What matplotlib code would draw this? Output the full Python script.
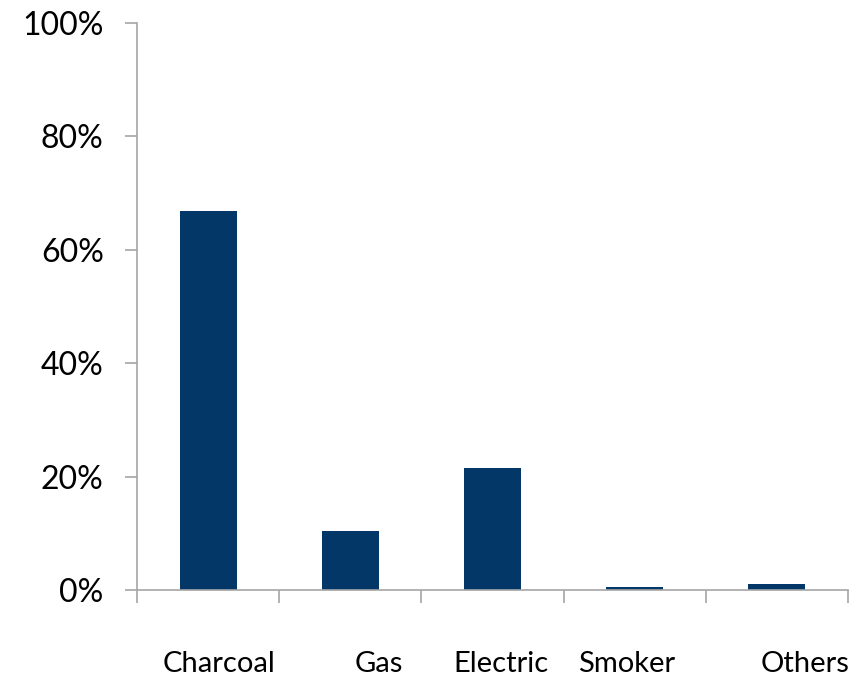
import numpy as np
import matplotlib.pyplot as plt
from matplotlib.ticker import PercentFormatter

categories = ['Charcoal', 'Gas', 'Electric', 'Smoker', 'Others']
shares = [66.8, 10.4, 21.5, 0.5, 1.0]
# labels sit a little off the category centres
label_shift = [0.08, 0.20, 0.06, -0.06, 0.20]

plt.rcParams['font.family'] = ['Lato', 'DejaVu Sans']

fig = plt.figure(figsize=(8.53, 6.77), dpi=100)
ax = fig.add_axes([137/853, 87/677, 711/853, 567/677])

x = np.arange(len(categories))
ax.bar(x, shares, width=0.4, color='#033767', zorder=2)

ax.set_xlim(-0.5, 4.5)
ax.set_ylim(0, 100)
ax.set_yticks(np.arange(0, 101, 20))
ax.yaxis.set_major_formatter(PercentFormatter(decimals=0))

ax.set_xticks(x + np.array(label_shift))
ax.set_xticklabels(categories, fontsize=21)
ax.set_xticks(np.arange(-0.5, 5, 1), minor=True)
ax.tick_params(axis='x', which='major', length=0, pad=44, colors='black')
ax.tick_params(axis='x', which='minor', length=9, width=1.2, color='#a6a6a6')
ax.tick_params(axis='y', length=9, width=1.2, color='#a6a6a6', labelsize=23, pad=15)

for side in ['top', 'right']:
    ax.spines[side].set_visible(False)
for side in ['left', 'bottom']:
    ax.spines[side].set_color('#a6a6a6')
    ax.spines[side].set_linewidth(1.2)

fig.savefig('out.png', dpi=100)
